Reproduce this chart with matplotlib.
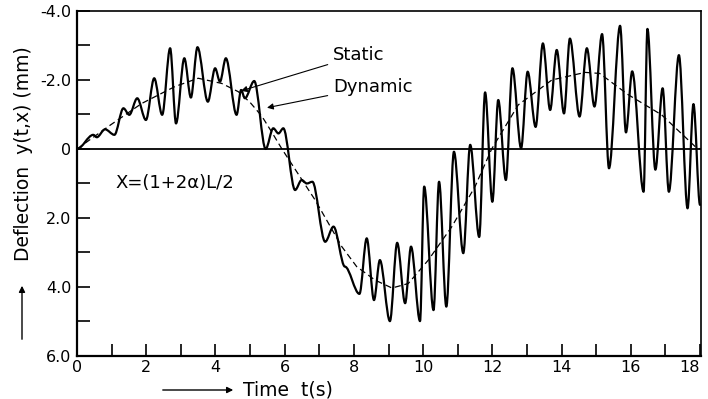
import matplotlib
matplotlib.use('Agg')
import matplotlib.pyplot as plt
from matplotlib.path import Path
from matplotlib.patches import PathPatch, FancyArrowPatch

# dynamic response, peaks and troughs (time in s, deflection in mm, downward positive)
t_dyn = [0.0, 0.47, 0.57, 0.81, 1.08, 1.34, 1.51, 1.74, 1.99, 2.23, 2.46, 2.69, 2.86,
         3.10, 3.29, 3.48, 3.78, 3.99, 4.13, 4.30, 4.61, 4.74, 4.85, 5.12, 5.45, 5.67,
         5.82, 5.96, 6.30, 6.49, 6.64, 6.80, 7.17, 7.41, 7.74, 8.16, 8.37, 8.58, 8.75,
         9.04, 9.25, 9.48, 9.65, 9.91, 10.03, 10.30, 10.46, 10.67, 10.89, 11.16, 11.36,
         11.62, 11.79, 12.00, 12.17, 12.39, 12.58, 12.83, 13.02, 13.25, 13.46, 13.67,
         13.86, 14.07, 14.24, 14.52, 14.73, 14.95, 15.17, 15.37, 15.69, 15.86, 16.04,
         16.37, 16.48, 16.71, 16.92, 17.10, 17.39, 17.64, 17.81, 18.0]
y_dyn = [0.0, -0.41, -0.34, -0.57, -0.41, -1.18, -0.99, -1.47, -0.84, -2.05, -0.99, -2.92, -0.74,
         -2.63, -1.49, -2.95, -1.37, -2.34, -1.95, -2.63, -0.99, -1.71, -1.47, -1.97, 0.0, -0.60,
         -0.45, -0.60, 1.19, 0.90, 1.00, 0.95, 2.69, 2.25, 3.41, 4.20, 2.59, 4.38, 3.22,
         4.99, 2.72, 4.47, 2.83, 4.99, 1.09, 4.67, 0.95, 4.57, 0.08, 3.02, -0.12,
         2.55, -1.64, 1.53, -1.42, 0.90, -2.34, -0.02, -2.24, -0.64, -3.06, -1.13,
         -2.87, -1.03, -3.20, -0.94, -2.92, -1.23, -3.33, 0.56, -3.57, -0.48, -2.25,
         1.24, -3.48, 0.60, -1.76, 1.24, -2.72, 1.72, -1.30, 1.62]

# static deflection
t_stat = [0.0, 0.9, 1.87, 2.83, 3.5, 4.18, 4.66, 5.0, 5.34, 5.62, 5.92, 6.88, 7.65, 8.08,
          8.61, 9.1, 9.57, 10.15, 10.83, 11.5, 11.98, 12.75, 13.72, 14.68, 15.1, 15.93,
          16.89, 17.86, 18.0]
y_stat = [0.0, -0.65, -1.32, -1.81, -2.05, -1.9, -1.66, -1.35, -0.95, -0.5, 0.0, 1.48, 2.83, 3.41,
          3.8, 4.03, 3.9, 3.22, 2.25, 1.09, 0.0, -1.28, -2.0, -2.22, -2.19, -1.57,
          -0.99, -0.07, 0.0]

y_ticks = [-4, -2, 0, 2, 4, 6]
y_labels = ['-4.0', '-2.0', '0', '2.0', '4.0', '6.0']
x_ticks = [0, 2, 4, 6, 8, 10, 12, 14, 16, 18]

fig = plt.figure(figsize=(7.08, 3.99), dpi=100)
ax = fig.add_axes([0.1088, 0.1078, 0.8814, 0.8647])

# draw the dynamic trace as smooth strokes through the read extrema (flat at each peak)
verts = [(t_dyn[0], y_dyn[0])]
codes = [Path.MOVETO]
for i in range(1, len(t_dyn)):
    h = (t_dyn[i] - t_dyn[i - 1]) / 3
    verts += [(t_dyn[i - 1] + h, y_dyn[i - 1]), (t_dyn[i] - h, y_dyn[i]), (t_dyn[i], y_dyn[i])]
    codes += [Path.CURVE4] * 3
ax.add_patch(PathPatch(Path(verts, codes), fill=False, edgecolor='black', lw=1.6,
                       joinstyle='round', capstyle='round'))

ax.plot(t_stat, y_stat, color='black', lw=0.9, dashes=(5, 3))
ax.axhline(0, color='black', lw=1.3)

ax.set_xlim(0, 18.03)
ax.set_ylim(6, -4)

ax.set_yticks(y_ticks)
ax.set_yticklabels(y_labels)
ax.set_yticks([-3, -1, 1, 3, 5], minor=True)
ax.set_xticks(x_ticks)
ax.set_xticks(range(1, 18, 2), minor=True)
ax.tick_params(which='both', direction='in', length=9, width=1.2, labelsize=11.5,
               top=False, right=False)
ax.tick_params(axis='y', pad=4)
ax.tick_params(axis='x', pad=3)
ax.get_xticklabels()[-1].set_horizontalalignment('right')

for side in ['left', 'bottom']:
    ax.spines[side].set_linewidth(1.6)
for side in ['top', 'right']:
    ax.spines[side].set_linewidth(1.2)

# curve labels
arrow = dict(arrowstyle='-|>', color='black', lw=0.8, mutation_scale=9)
ax.annotate('Static', xy=(4.66, -1.66), xytext=(7.4, -2.72), fontsize=13,
            ha='left', va='center', arrowprops=arrow)
ax.annotate('Dynamic', xy=(5.41, -1.18), xytext=(7.4, -1.81), fontsize=13,
            ha='left', va='center', arrowprops=arrow)
ax.text(1.1, 0.99, 'X=(1+2α)L/2', fontsize=13, ha='left', va='center')

# axis titles with arrows
fig.text(24 / 708, 1 - 154 / 399, 'Deflection  y(t,x) (mm)', rotation=90,
         fontsize=13.5, ha='center', va='center')
fig.text(243 / 708, 1 - 390 / 399, 'Time  t(s)', fontsize=13.5, ha='left', va='center')
fig.patches.append(FancyArrowPatch(
    (22 / 708, 1 - 342 / 399), (22 / 708, 1 - 283 / 399), transform=fig.transFigure,
    arrowstyle='-|>', mutation_scale=9, color='black', lw=1.0))
fig.patches.append(FancyArrowPatch(
    (160 / 708, 1 - 390 / 399), (236 / 708, 1 - 390 / 399), transform=fig.transFigure,
    arrowstyle='-|>', mutation_scale=9, color='black', lw=1.0))

fig.savefig('out.png', dpi=100)
